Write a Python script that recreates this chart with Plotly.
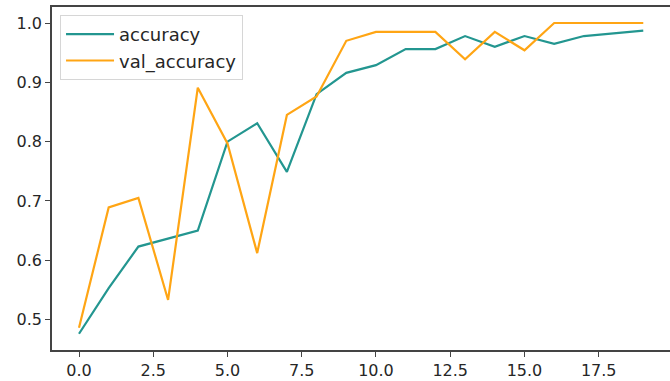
import plotly.graph_objects as go

epochs = list(range(20))
accuracy = [0.476, 0.553, 0.623, 0.637, 0.650, 0.800, 0.831, 0.749, 0.880, 0.916,
            0.929, 0.956, 0.956, 0.978, 0.960, 0.978, 0.965, 0.978, 0.983, 0.987]
val_accuracy = [0.486, 0.689, 0.705, 0.533, 0.891, 0.797, 0.612, 0.845, 0.876, 0.970,
                0.985, 0.985, 0.985, 0.939, 0.985, 0.954, 1.0, 1.0, 1.0, 1.0]
x_ticks = [0.0, 2.5, 5.0, 7.5, 10.0, 12.5, 15.0, 17.5]
x_tick_labels = ["0.0", "2.5", "5.0", "7.5", "10.0", "12.5", "15.0", "17.5"]
y_ticks = [0.5, 0.6, 0.7, 0.8, 0.9, 1.0]
y_tick_labels = ["0.5", "0.6", "0.7", "0.8", "0.9", "1.0"]

teal = "#239690"
orange = "#ffa514"

fig = go.Figure()
fig.add_trace(go.Scatter(x=epochs, y=accuracy, mode="lines", name="accuracy",
                         line=dict(color=teal, width=2.2)))
fig.add_trace(go.Scatter(x=epochs, y=val_accuracy, mode="lines", name="val_accuracy",
                         line=dict(color=orange, width=2.2)))

font = dict(family="DejaVu Sans", size=16, color="#262626")
fig.update_layout(
    width=670, height=381,
    margin=dict(l=52, r=0, t=7, b=31),
    paper_bgcolor="white", plot_bgcolor="white",
    font=font,
    showlegend=True,
    legend=dict(x=0.013, y=0.977, xanchor="left", yanchor="top",
                bgcolor="rgba(255,255,255,0.8)", bordercolor="#d6d6d6", borderwidth=1,
                font=dict(family="DejaVu Sans", size=18, color="#262626"),
                itemwidth=48),
)
fig.update_xaxes(range=[-0.909, 19.9], tickvals=x_ticks, ticktext=x_tick_labels,
                 showgrid=False, zeroline=False, showline=True, linecolor="#444444",
                 linewidth=1.5, mirror=True, ticks="outside", ticklen=5, tickwidth=1.2,
                 tickcolor="#444444", tickfont=font)
fig.update_yaxes(range=[0.4486, 1.027], tickvals=y_ticks, ticktext=y_tick_labels,
                 showgrid=False, zeroline=False, showline=True, linecolor="#444444",
                 linewidth=1.5, ticks="outside", ticklen=5, tickwidth=1.2,
                 tickcolor="#444444", tickfont=font)

fig.write_html("out.html", config={"displayModeBar": False},
               post_script="document.body.style.margin='0';document.body.style.overflow='hidden';")
